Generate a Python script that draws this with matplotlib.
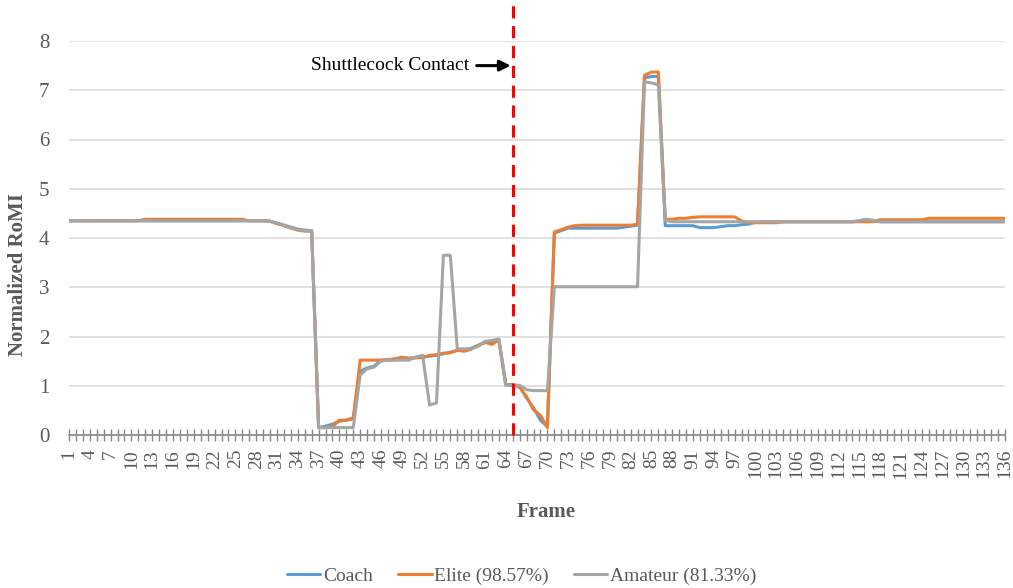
import numpy as np
import matplotlib
matplotlib.use("Agg")
import matplotlib.pyplot as plt

# --- data: normalized RoMI per frame ---
frames = np.arange(1, 137)

coach = np.array(
    [4.35] * 29
    + [4.34, 4.30, 4.26, 4.22, 4.18, 4.16, 4.15]
    + [0.15, 0.18, 0.22, 0.28, 0.30, 0.33, 1.30, 1.36, 1.40, 1.52,
       1.52, 1.53, 1.58, 1.55, 1.57, 1.58, 1.60, 1.62, 1.65, 1.68,
       1.72, 1.72, 1.76, 1.82, 1.88, 1.88, 1.93, 1.02, 1.02, 0.98,
       0.75, 0.55, 0.30, 0.17]
    + [4.10, 4.15, 4.20]
    + [4.20] * 7
    + [4.22, 4.24, 4.26, 7.25, 7.28, 7.28]
    + [4.25, 4.25, 4.25, 4.25, 4.25, 4.21, 4.21, 4.21, 4.23, 4.25,
       4.25, 4.27, 4.28, 4.32]
    + [4.33] * 14
    + [4.35, 4.37, 4.35]
    + [4.33] * 19
)

elite = np.array(
    [4.35] * 11
    + [4.38] * 15
    + [4.35] * 3
    + [4.34, 4.29, 4.25, 4.20, 4.16, 4.14, 4.14]
    + [0.15, 0.15, 0.17, 0.30, 0.30, 0.35, 1.52, 1.52, 1.52, 1.52,
       1.53, 1.55, 1.57, 1.56, 1.57, 1.57, 1.62, 1.63, 1.66, 1.67,
       1.72, 1.70, 1.74, 1.82, 1.88, 1.84, 1.93, 1.02, 1.02, 0.97,
       0.78, 0.51, 0.40, 0.15]
    + [4.12, 4.17, 4.22, 4.25]
    + [4.26] * 8
    + [4.28, 7.30, 7.37, 7.37]
    + [4.38, 4.38, 4.40, 4.40, 4.42]
    + [4.43] * 6
    + [4.35]
    + [4.31] * 5
    + [4.33] * 14
    + [4.37] * 7
    + [4.40] * 12
)

amateur = np.array(
    [4.35] * 29
    + [4.34, 4.30, 4.26, 4.21, 4.17, 4.15, 4.15]
    + [0.15] * 6
    + [1.22, 1.34, 1.38, 1.50]
    + [1.52] * 4
    + [1.58, 1.62, 0.61, 0.65, 3.65, 3.65]
    + [1.75, 1.75, 1.75, 1.80, 1.90, 1.92, 1.95]
    + [1.01, 1.01, 1.01, 0.92, 0.90, 0.90, 0.90]
    + [3.01] * 13
    + [7.17, 7.15, 7.11, 4.36]
    + [4.33] * 27
    + [4.35, 4.38, 4.36]
    + [4.33] * 19
)

series = [
    ("Coach", coach, "#5B9BD5"),
    ("Elite (98.57%)", elite, "#ED7D31"),
    ("Amateur (81.33%)", amateur, "#A5A5A5"),
]
contact_frame = 65

serif = ["Liberation Serif", "DejaVu Serif"]
tick_col = "#595959"

fig = plt.figure(figsize=(10.13, 5.88), dpi=100)
ax = fig.add_axes([69 / 1013, 153 / 588, 936 / 1013, 394 / 588])

for name, vals, col in series:
    ax.plot(frames, vals, color=col, lw=2.2, label=name,
            solid_joinstyle="round", solid_capstyle="round", zorder=3)

ax.set_xlim(1, 136)
ax.set_ylim(0, 8)
ax.set_yticks(range(0, 9))
ax.yaxis.grid(True, color="#D9D9D9", lw=1.1)
ax.set_axisbelow(True)

ax.set_xticks(frames)
ax.set_xticklabels([str(f) if (f - 1) % 3 == 0 else "" for f in frames],
                   rotation=90, fontfamily=serif, fontsize=14, color=tick_col)
ax.set_yticklabels([str(v) for v in range(0, 9)], fontfamily=serif,
                   fontsize=15, color=tick_col)
ax.tick_params(axis="x", direction="inout", length=8, width=1,
               color="#868686", pad=6)
ax.tick_params(axis="y", length=0, pad=14)

for s in ("left", "top", "right"):
    ax.spines[s].set_visible(False)
ax.spines["bottom"].set_color("#868686")
ax.spines["bottom"].set_linewidth(1.2)

# contact marker: red dashed line running to the top of the figure
ax.axvline(contact_frame, ymin=0, ymax=(588 - 153) / 394, color="#FF0000",
           lw=2.2, ls=(0, (4, 2.5)), clip_on=False, zorder=4)

ax.annotate("Shuttlecock Contact", xy=(contact_frame - 0.3, 7.5),
            xytext=(contact_frame - 6.2, 7.5), ha="right", va="center",
            fontfamily=serif, fontsize=14, color="black",
            arrowprops=dict(arrowstyle="-|>", color="black", lw=2.2,
                            mutation_scale=16, shrinkA=3, shrinkB=0))

fig.text(18 / 1013, 1 - 275 / 588, "Normalized RoMI", rotation=90,
         ha="center", va="center", fontfamily=serif, fontsize=15,
         fontweight="bold", color=tick_col)
fig.text(546 / 1013, 1 - 512 / 588, "Frame", ha="center", va="center",
         fontfamily=serif, fontsize=15, fontweight="bold", color=tick_col)

fig.legend(loc="center", bbox_to_anchor=(522 / 1013, 1 - 576 / 588), ncol=3,
           frameon=False, prop={"family": serif, "size": 14},
           handlelength=1.7, handletextpad=0.15, columnspacing=1.3,
           labelcolor=tick_col)

fig.savefig("out.png", dpi=100)
